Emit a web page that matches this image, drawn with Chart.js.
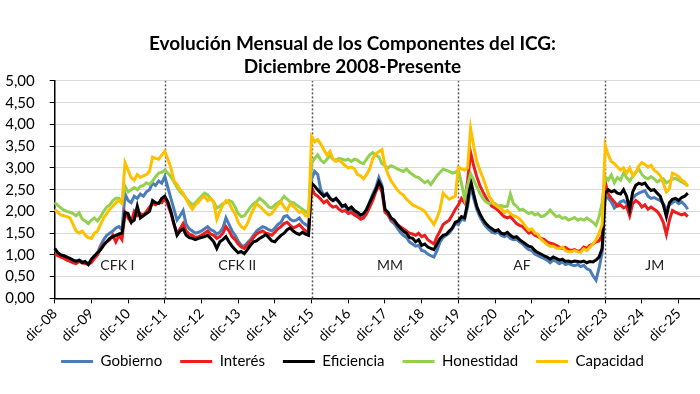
<!DOCTYPE html>
<html>
<head>
<meta charset="utf-8">
<script src="https://cdn.jsdelivr.net/npm/chart.js@4"></script>
<style>
  body { margin: 0; background: #fff; }
  #wrap { width: 700px; height: 394px; }
</style>
</head>
<body>
<div id="wrap"><canvas id="myChart"></canvas></div>
<script>
// meses: dic-08 ... jul-26 (los datos llegan a mar-26)
const monthNames = ["ene", "feb", "mar", "abr", "may", "jun", "jul", "ago", "sep", "oct", "nov", "dic"];
const months = [];
for (let k = 0; k < 212; k++) {
  const m = (11 + k) % 12;
  const yr = 8 + Math.floor((11 + k) / 12);
  months.push(monthNames[m] + "-" + String(yr).padStart(2, "0"));
}

const yTicks = [0, 0.5, 1, 1.5, 2, 2.5, 3, 3.5, 4, 4.5, 5];

// cambios de gobierno y etiquetas
const dividers = [36, 84, 132, 180];
const eraNames = ["CFK I", "CFK II", "MM", "AF", "JM"];
const eraAt = [20.5, 59.7, 109.6, 152.8, 196.2];

// una fila por año (dic a nov)
const gobierno = [
  1.12, 1.05, 1.0, 0.98, 0.95, 0.9, 0.88, 0.85, 0.88, 0.85, 0.82, 0.8,
  0.85, 0.95, 1.05, 1.22, 1.35, 1.45, 1.5, 1.55, 1.62, 1.65, 1.58, 2.4,
  2.25, 2.2, 2.35, 2.3, 2.4, 2.35, 2.45, 2.5, 2.65, 2.6, 2.7, 2.65,
  2.8, 2.55, 2.3, 2.05, 1.8, 1.9, 2.02, 1.7, 1.6, 1.55, 1.5, 1.52,
  1.55, 1.6, 1.65, 1.58, 1.55, 1.48, 1.52, 1.62, 1.85, 1.7, 1.55, 1.45,
  1.32, 1.22, 1.2, 1.28, 1.35, 1.45, 1.55, 1.6, 1.65, 1.62, 1.58, 1.55,
  1.62, 1.7, 1.75, 1.88, 1.9, 1.82, 1.78, 1.8, 1.85, 1.75, 1.7, 1.65,
  2.75, 2.92, 2.85, 2.5, 2.38, 2.42, 2.32, 2.25, 2.28, 2.2, 2.1, 2.12,
  2.02, 2.05, 1.98, 1.92, 1.88, 1.92, 2.05, 2.22, 2.4, 2.55, 2.78, 2.6,
  2.0, 1.92, 1.78, 1.72, 1.62, 1.52, 1.45, 1.4, 1.3, 1.25, 1.2, 1.22,
  1.1, 1.08, 1.02, 0.98, 0.95, 1.1, 1.3, 1.4, 1.45, 1.5, 1.6, 1.72,
  1.7, 1.82, 1.8, 2.1, 2.6, 2.3, 2.05, 1.88, 1.75, 1.65, 1.58, 1.52,
  1.5, 1.52, 1.45, 1.42, 1.45, 1.38, 1.35, 1.36, 1.3, 1.25, 1.18, 1.12,
  1.1, 1.02, 0.98, 0.95, 0.92, 0.88, 0.82, 0.88, 0.85, 0.8, 0.84, 0.78,
  0.8, 0.77, 0.75, 0.78, 0.73, 0.76, 0.68, 0.65, 0.52, 0.42, 0.7, 1.05,
  2.35, 2.3, 2.22, 2.08, 2.15, 2.22, 2.25, 2.18, 2.2, 2.3, 2.38, 2.42,
  2.45, 2.48, 2.35, 2.3, 2.32, 2.28, 2.25, 2.18, 2.05, 2.15, 2.2, 2.25,
  2.18, 2.22, 2.15, 2.05
];
const interes = [
  1.02, 0.98, 0.95, 0.92, 0.88, 0.85, 0.82, 0.8, 0.85, 0.82, 0.8, 0.78,
  0.82, 0.92, 1.0, 1.15, 1.25, 1.3, 1.35, 1.45, 1.3, 1.45, 1.35, 1.98,
  1.85, 1.75, 2.0, 1.9, 1.95, 1.92, 2.0, 2.1, 2.18, 2.15, 2.2, 2.2,
  2.3, 2.15, 1.95, 1.7, 1.5, 1.6, 1.72, 1.55, 1.48, 1.45, 1.4, 1.42,
  1.45, 1.5, 1.55, 1.48, 1.45, 1.38, 1.42, 1.5, 1.65, 1.55, 1.42, 1.35,
  1.25, 1.18, 1.15, 1.22, 1.3, 1.4, 1.48, 1.52, 1.55, 1.5, 1.48, 1.45,
  1.52, 1.6, 1.65, 1.72, 1.75, 1.68, 1.62, 1.65, 1.7, 1.62, 1.55, 1.52,
  2.55, 2.4, 2.35, 2.28, 2.2, 2.25, 2.15, 2.1, 2.12, 2.05, 2.0, 2.02,
  1.95, 1.98, 1.92, 1.88, 1.82, 1.85, 1.95, 2.1, 2.25, 2.45, 2.6, 2.45,
  1.98, 1.92, 1.82, 1.78, 1.7, 1.65, 1.6, 1.55, 1.5, 1.48, 1.45, 1.5,
  1.42, 1.45, 1.35, 1.3, 1.25, 1.42, 1.55, 1.7, 1.75, 1.8, 1.92, 2.05,
  2.15, 2.3, 2.2, 2.7, 3.35, 3.05, 2.8, 2.6, 2.45, 2.32, 2.2, 2.12,
  2.08, 2.02, 1.95, 1.88, 1.85, 1.88, 1.8, 1.72, 1.68, 1.65, 1.58, 1.5,
  1.52, 1.45, 1.42, 1.38, 1.36, 1.3, 1.27, 1.25, 1.22, 1.18, 1.15, 1.17,
  1.12, 1.1, 1.12, 1.08, 1.1, 1.18, 1.15, 1.22, 1.25, 1.3, 1.32, 1.45,
  2.68, 2.4, 2.3, 2.22, 2.12, 2.15, 2.08, 2.12, 1.9, 2.18, 2.25, 2.2,
  2.1, 2.15, 2.05, 2.1, 2.05, 2.0, 1.9, 1.75, 1.47, 1.8, 2.02, 1.98,
  1.95, 1.92, 1.95, 1.88
];
const eficiencia = [
  1.15, 1.05, 1.0, 0.98, 0.95, 0.92, 0.88, 0.85, 0.88, 0.82, 0.85, 0.78,
  0.9, 0.98, 1.05, 1.12, 1.22, 1.3, 1.38, 1.42, 1.45, 1.48, 1.5, 1.98,
  1.95, 1.75, 1.8, 2.12, 1.85, 1.9, 1.95, 2.0, 2.25, 2.2, 2.18, 2.3,
  2.35, 2.22, 2.0, 1.72, 1.45, 1.55, 1.6, 1.45, 1.4, 1.38, 1.35, 1.38,
  1.4, 1.42, 1.45, 1.38, 1.3, 1.15, 1.3, 1.35, 1.42, 1.3, 1.2, 1.12,
  1.05, 1.08, 1.03, 1.12, 1.22, 1.3, 1.32, 1.38, 1.42, 1.47, 1.4, 1.32,
  1.3, 1.38, 1.45, 1.5, 1.58, 1.62, 1.55, 1.5, 1.47, 1.52, 1.48, 1.45,
  2.65, 2.58, 2.5, 2.42, 2.35, 2.4, 2.3, 2.25, 2.3, 2.22, 2.12, 2.15,
  2.05, 2.1, 2.02, 1.98, 1.92, 1.95, 2.05, 2.2, 2.35, 2.5, 2.68, 2.55,
  2.05, 1.98, 1.85, 1.8, 1.7, 1.62, 1.55, 1.5, 1.4, 1.38, 1.3, 1.35,
  1.22, 1.25, 1.18, 1.15, 1.12, 1.25, 1.38, 1.45, 1.47, 1.55, 1.62, 1.75,
  1.78, 1.88, 1.85, 2.2, 2.72, 2.4, 2.12, 1.95, 1.82, 1.72, 1.65, 1.6,
  1.55, 1.58, 1.5, 1.48, 1.52, 1.45, 1.4, 1.42, 1.35, 1.3, 1.25, 1.2,
  1.18, 1.1, 1.05, 1.02, 0.98, 0.95, 0.9, 0.95, 0.92, 0.88, 0.9, 0.85,
  0.86, 0.84, 0.86, 0.85, 0.84, 0.86, 0.82, 0.85, 0.84, 0.88, 0.95, 1.15,
  2.42, 2.5, 2.45, 2.48, 2.42, 2.4, 2.5, 2.35, 2.05, 2.45, 2.6, 2.65,
  2.62, 2.65, 2.55, 2.48, 2.5, 2.42, 2.35, 2.15, 1.88, 2.2, 2.28, 2.3,
  2.25, 2.32, 2.35, 2.42
];
const honestidad = [
  2.2, 2.14, 2.08, 2.03, 2.0, 1.98, 1.95, 1.9, 1.97, 1.82, 1.78, 1.72,
  1.8, 1.85, 1.78, 1.88, 2.0, 2.1, 2.15, 2.25, 2.3, 2.3, 2.22, 2.58,
  2.45, 2.5, 2.55, 2.5, 2.58, 2.6, 2.66, 2.62, 2.7, 2.8, 2.88, 2.9,
  2.95, 2.88, 2.8, 2.68, 2.55, 2.45, 2.38, 2.3, 2.22, 2.15, 2.2, 2.28,
  2.35, 2.42, 2.38, 2.3, 2.22, 2.08, 2.12, 2.18, 2.2, 2.25, 2.22, 2.1,
  1.95, 1.88, 1.9, 2.0, 2.1, 2.18, 2.22, 2.3, 2.25, 2.18, 2.1, 2.08,
  2.15, 2.2, 2.25, 2.35, 2.28, 2.22, 2.2, 2.15, 2.1, 2.05, 2.0, 1.95,
  3.1, 3.22, 3.3, 3.18, 3.12, 3.2, 3.28, 3.2, 3.18, 3.22, 3.2, 3.18,
  3.2, 3.15, 3.2, 3.18, 3.12, 3.1, 3.2, 3.3, 3.35, 3.3, 3.25, 3.1,
  3.05, 3.0, 3.05, 3.02, 2.98, 2.95, 2.92, 2.98, 2.9, 2.85, 2.8, 2.78,
  2.72, 2.66, 2.7, 2.62, 2.72, 2.82, 2.9, 2.97, 2.95, 2.92, 2.88, 2.9,
  2.95, 2.65, 2.3, 2.6, 2.87, 2.72, 2.57, 2.42, 2.3, 2.22, 2.18, 2.2,
  2.18, 2.12, 2.14, 2.11, 2.12, 2.4, 2.18, 2.12, 2.03, 2.05, 2.0, 1.95,
  1.98, 1.92, 1.95, 1.88, 1.9, 1.95, 2.03, 1.95, 1.88, 1.9, 1.84, 1.86,
  1.8, 1.83, 1.86, 1.8, 1.83, 1.8, 1.85, 1.8, 1.75, 1.68, 1.88, 2.2,
  2.8, 2.72, 2.84, 2.66, 2.78, 2.72, 2.88, 2.78, 2.7, 2.8, 2.9, 2.98,
  2.85, 2.78, 2.75, 2.8, 2.75, 2.68, 2.72, 2.75, 2.66, 2.7, 2.74, 2.76,
  2.72, 2.68, 2.64, 2.6
];
const capacidad = [
  2.05, 1.98, 1.92, 1.9, 1.88, 1.85, 1.7, 1.55, 1.5, 1.55, 1.45, 1.4,
  1.38, 1.5, 1.55, 1.7, 1.85, 1.95, 2.05, 2.12, 2.2, 2.25, 2.18, 3.12,
  2.95, 2.78, 2.72, 2.85, 2.78, 2.82, 2.85, 2.92, 3.25, 3.22, 3.2, 3.3,
  3.38, 3.2, 3.0, 2.7, 2.62, 2.5, 2.42, 2.28, 2.15, 2.05, 2.15, 2.22,
  2.3, 2.35, 2.25, 2.3, 2.2, 1.82, 2.0, 2.15, 2.25, 2.2, 2.05, 1.95,
  1.75, 1.65, 1.6, 1.72, 1.9, 2.05, 2.18, 2.12, 2.05, 1.98, 1.92, 1.95,
  2.05, 2.15, 2.22, 2.1, 2.02, 2.18, 2.12, 2.05, 1.98, 2.0, 1.9, 1.88,
  3.72, 3.6, 3.65, 3.55, 3.42, 3.3, 3.38, 3.2, 3.15, 3.18, 3.12, 3.05,
  3.0, 3.02, 2.98, 2.85, 2.82, 2.75, 2.85, 2.98, 3.22, 3.32, 3.38, 3.42,
  3.05, 2.85, 2.7, 2.6, 2.5, 2.42, 2.38, 2.28, 2.22, 2.15, 2.12, 2.08,
  2.05, 2.0, 1.9, 1.8, 1.7, 1.85, 2.05, 2.42, 2.35, 2.28, 2.32, 2.35,
  3.02, 2.98, 2.95, 3.0, 3.9, 3.5, 3.15, 2.95, 2.78, 2.58, 2.36, 2.25,
  2.15, 2.1, 2.08, 1.97, 2.02, 1.95, 1.9, 1.88, 1.83, 1.75, 1.65, 1.57,
  1.6, 1.5, 1.47, 1.36, 1.3, 1.24, 1.2, 1.2, 1.16, 1.15, 1.18, 1.1,
  1.07, 1.07, 1.1, 1.07, 1.06, 1.14, 1.1, 1.18, 1.25, 1.35, 1.5, 1.7,
  3.52, 3.3, 3.15, 3.1, 3.02, 2.95, 3.0, 2.88, 3.0, 2.82, 2.9, 3.05,
  3.12, 3.08, 3.02, 3.06, 2.95, 2.9, 2.82, 2.65, 2.45, 2.52, 2.88, 2.85,
  2.8, 2.72, 2.68, 2.57
];

const seriesNames = ["Gobierno", "Interés", "Eficiencia", "Honestidad", "Capacidad"];
const seriesData = [gobierno, interes, eficiencia, honestidad, capacidad];
const seriesColors = ["#4a7db8", "#ee1c1c", "#000000", "#92d050", "#ffc000"];

const font = "Lato";

// líneas punteadas y nombres de cada gobierno
const eraPlugin = {
  id: "eras",
  beforeDatasetsDraw(chart) {
    const { ctx, scales: { x, y } } = chart;
    ctx.save();
    ctx.strokeStyle = "#555";
    ctx.lineWidth = 1.5;
    ctx.setLineDash([2, 2]);
    dividers.forEach(function (i) {
      const px = Math.round(x.getPixelForValue(i)) + 0.5;
      ctx.beginPath();
      ctx.moveTo(px, y.getPixelForValue(0));
      ctx.lineTo(px, y.getPixelForValue(5));
      ctx.stroke();
    });
    ctx.setLineDash([]);
    ctx.fillStyle = "#222";
    ctx.font = "14px " + font;
    ctx.textAlign = "center";
    ctx.textBaseline = "middle";
    eraNames.forEach(function (name, k) {
      ctx.fillText(name, x.getPixelForValue(eraAt[k]), y.getPixelForValue(0.76));
    });
    ctx.restore();
  }
};

// sube la leyenda para que quede junto a las etiquetas del eje
const legendLift = {
  id: "legendLift",
  afterLayout(chart) {
    chart.legend.top -= 11;
    chart.legend.bottom -= 11;
  }
};

const ctx = document.getElementById("myChart").getContext("2d");
const myChart = new Chart(ctx, {
  type: "line",
  data: {
    labels: months,
    datasets: seriesNames.map(function (name, k) {
      return {
        label: name,
        data: seriesData[k],
        borderColor: seriesColors[k],
        backgroundColor: seriesColors[k],
        borderWidth: 3,
        pointRadius: 0,
        tension: 0,
        fill: false,
        order: 5 - k
      };
    })
  },
  options: {
    responsive: true,
    maintainAspectRatio: false,
    animation: false,
    layout: { padding: { left: 5, right: 0, top: 0, bottom: 4 } },
    plugins: {
      title: {
        display: true,
        text: ["Evolución Mensual de los Componentes del ICG:", "Diciembre 2008-Presente"],
        color: "#000",
        font: { family: font, size: 19, weight: "bold", lineHeight: 1.22 },
        padding: { top: 32, bottom: 2.6 }
      },
      legend: {
        position: "bottom",
        labels: {
          usePointStyle: true,
          pointStyle: "line",
          pointStyleWidth: 32,
          color: "#000",
          padding: 18,
          font: { family: font, size: 15 },
          sort: function (a, b) { return a.datasetIndex - b.datasetIndex; }
        }
      },
      tooltip: { enabled: false }
    },
    scales: {
      x: {
        type: "category",
        offset: false,
        border: { color: "#000", width: 1.5 },
        grid: {
          drawOnChartArea: false,
          tickLength: 5,
          tickColor: function (c) { return c.index % 12 === 0 ? "#000" : "rgba(0,0,0,0)"; }
        },
        ticks: {
          autoSkip: false,
          minRotation: 45,
          maxRotation: 45,
          padding: 2,
          color: "#000",
          font: { family: font, size: 14 },
          callback: function (value, index) {
            return index % 12 === 0 ? this.getLabelForValue(value) : "";
          }
        },
        // la última etiqueta está vacía: no reservar margen a la derecha
        afterFit: function (scale) { scale.paddingRight = 0; }
      },
      y: {
        min: 0,
        max: 5,
        border: { color: "#000", width: 1.5 },
        grid: { color: "#d9d9d9", tickColor: "#000", tickLength: 5 },
        ticks: {
          autoSkip: false,
          stepSize: 0.5,
          padding: 15,
          color: "#000",
          font: { family: font, size: 15 },
          callback: function (v) { return yTicks.includes(v) ? v.toFixed(2).replace(".", ",") : ""; }
        },
        afterFit: function (scale) { scale.width = 49.7; }
      }
    }
  },
  plugins: [eraPlugin, legendLift]
});
</script>
</body>
</html>
